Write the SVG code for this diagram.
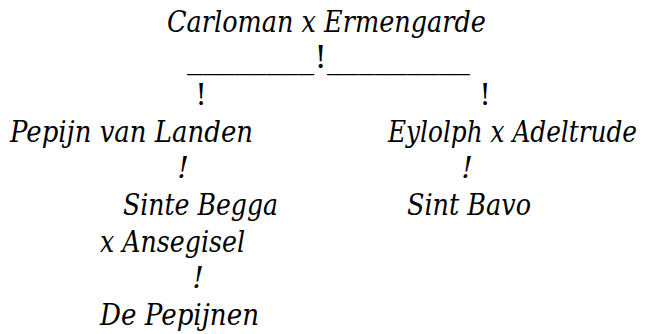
<svg xmlns="http://www.w3.org/2000/svg" width="646" height="334" viewBox="0 0 646 334">
<style>
text{font-family:"DejaVu Serif",serif;font-size:29px;fill:#000}
.n{font-style:italic}
.r{font-style:normal;font-size:32px}
.i{font-style:italic;text-anchor:middle}
.c{font-style:normal;text-anchor:middle}
</style>
<rect width="646" height="334" fill="#fff"/>
<g id="node-carloman"><text class="n" x="167" y="32" textLength="319" lengthAdjust="spacingAndGlyphs">Carloman x Ermengarde</text></g>
<g id="node-pepijn"><text class="n" x="10" y="142" textLength="243" lengthAdjust="spacingAndGlyphs">Pepijn van Landen</text></g>
<g id="node-eylolph"><text class="n" x="388" y="142" textLength="249" lengthAdjust="spacingAndGlyphs">Eylolph x Adeltrude</text></g>
<g id="node-begga"><text class="n" x="123" y="215" textLength="155" lengthAdjust="spacingAndGlyphs">Sinte Begga</text><text class="n" x="100" y="252" textLength="145" lengthAdjust="spacingAndGlyphs">x Ansegisel</text></g>
<g id="node-bavo"><text class="n" x="407" y="215" textLength="124" lengthAdjust="spacingAndGlyphs">Sint Bavo</text></g>
<g id="node-pepijnen"><text class="n" x="100" y="325" textLength="159" lengthAdjust="spacingAndGlyphs">De Pepijnen</text></g>
<g id="connectors">
<text class="r" x="187" y="68" textLength="283" lengthAdjust="spacingAndGlyphs">________!_________</text>
<text class="c" x="201" y="105">!</text>
<text class="c" x="485" y="105">!</text>
<text class="i" x="183" y="178">!</text>
<text class="i" x="467" y="178">!</text>
<text class="i" x="198" y="288">!</text>
</g>
</svg>
